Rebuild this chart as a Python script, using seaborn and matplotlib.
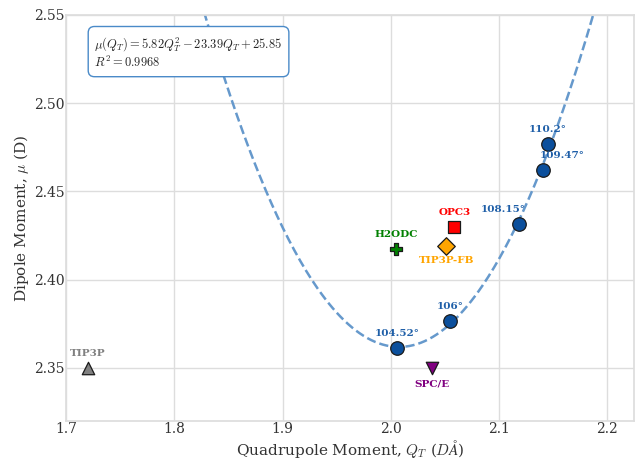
import numpy as np
import pandas as pd
import seaborn as sns
import matplotlib
matplotlib.use("Agg")
import matplotlib.pyplot as plt

# bond-angle series (fit points)
angle_labels = ["104.52°", "106°", "108.15°", "109.47°", "110.2°"]
angle_q = [2.0057, 2.0550, 2.1180, 2.1407, 2.1453]
angle_mu = [2.3613, 2.3766, 2.4315, 2.4620, 2.4768]

# reference water models
model_names = ["OPC3", "TIP3P-FB", "H2ODC", "SPC/E", "TIP3P"]
model_q = [2.0586, 2.0513, 2.0047, 2.0385, 1.7200]
model_mu = [2.4298, 2.4190, 2.4174, 2.3500, 2.3500]
model_markers = ["s", "D", "P", "v", "^"]
model_colors = ["red", "orange", "green", "purple", "gray"]

sns.set_theme(style="whitegrid", rc={"grid.color": "#dddddd", "axes.edgecolor": "#dddddd"})
plt.rcParams['font.family'] = ['DejaVu Serif']
plt.rcParams['mathtext.fontset'] = 'cm'

fig, ax = plt.subplots(figsize=(6.35, 4.63), dpi=100)
fig.subplots_adjust(left=0.104, right=0.999, bottom=0.091, top=0.968)

# quadratic fit through the angle points
coef = np.polyfit(angle_q, angle_mu, 2)
xs = np.linspace(1.70, 2.23, 300)
ax.plot(xs, np.polyval(coef, xs), ls="--", color="#6699cc", lw=1.8, zorder=1)

df = pd.DataFrame({"q": angle_q, "mu": angle_mu, "label": angle_labels})
sns.scatterplot(data=df, x="q", y="mu", ax=ax, s=95, color="#0b4f9c",
                edgecolor="#1a1a1a", linewidth=0.9, zorder=3, legend=False)

angle_offsets = [(0, 7), (0, 7), (-11, 7), (14, 7), (0, 7)]
for lab, x, y, (dx, dy) in zip(angle_labels, angle_q, angle_mu, angle_offsets):
    ax.annotate(lab, (x, y), xytext=(dx, dy), textcoords="offset points",
                ha="center", va="bottom", fontsize=7.5, fontweight="bold", color="#1f5fa8")

model_offsets = [(0, 7, "bottom"), (0, -7, "top"), (0, 7, "bottom"),
                 (0, -8, "top"), (0, 7, "bottom")]
for name, x, y, m, c, (dx, dy, va) in zip(model_names, model_q, model_mu,
                                          model_markers, model_colors, model_offsets):
    ax.scatter([x], [y], marker=m, s=80, color=c, edgecolor="#1a1a1a",
               linewidth=0.9, zorder=3)
    ax.annotate(name, (x, y), xytext=(dx, dy), textcoords="offset points",
                ha="center", va=va, fontsize=7.5, fontweight="bold", color=c)

ax.text(0.05, 0.95,
        r"$\mu(Q_T) = 5.82Q_T^2 - 23.39Q_T + 25.85$" "\n" r"$R^2 = 0.9968$",
        transform=ax.transAxes, ha="left", va="top", fontsize=9,
        bbox=dict(boxstyle="round,pad=0.5", facecolor="white", edgecolor="#4a8ac8"))

ax.set_xlim(1.7, 2.225)
ax.set_ylim(2.32, 2.55)
ax.set_xticks([1.7, 1.8, 1.9, 2.0, 2.1, 2.2])
ax.set_yticks([2.35, 2.40, 2.45, 2.50, 2.55])
ax.tick_params(labelsize=10, pad=1, length=0, labelcolor="#333333")
ax.set_xlabel(r"Quadrupole Moment, $Q_T$ ($D\AA$)", fontsize=11, labelpad=1, color="#333333")
ax.set_ylabel(r"Dipole Moment, $\mu$ (D)", fontsize=11, labelpad=2, color="#333333")

fig.savefig("out.png", dpi=100)
